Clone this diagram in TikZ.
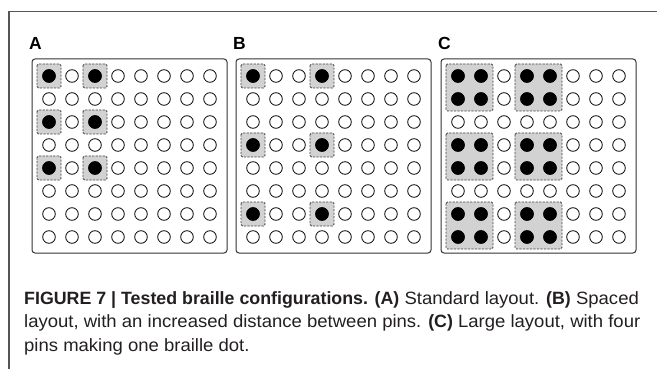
\documentclass[tikz,border=0pt]{standalone}
\usepackage{fontspec}
\setmainfont{Liberation Sans}[FakeStretch=1.04,BoldFeatures={FakeStretch=1.0}]
\definecolor{framecol}{HTML}{555555}
\definecolor{panelcol}{HTML}{333333}
\definecolor{boxfill}{HTML}{D2D2D2}
\definecolor{boxline}{HTML}{444444}
\definecolor{captcol}{HTML}{231F20}
\tikzset{
  frameline/.style={draw=framecol, line width=1.3pt},
  panelbox/.style={draw=panelcol, line width=1pt, rounded corners=3pt, fill=white},
  dotbox/.style={draw=boxline, fill=boxfill, dashed, dash pattern=on 2.2pt off 1.3pt, line width=0.8pt, rounded corners=1.5pt},
  pin/.style={draw=black, line width=0.8pt},
  pinset/.style={draw=black, fill=black, line width=0.8pt},
  panellabel/.style={font=\fontsize{17.5}{20}\selectfont\bfseries, anchor=base west, inner sep=0pt},
  captline/.style={font=\fontsize{17.8}{20}\selectfont, text=captcol, anchor=base west, inner sep=0pt}
}
\newcommand{\pinr}{6.3}
\begin{document}
\begin{tikzpicture}[x=1pt,y=-1pt]
\useasboundingbox (0,0) rectangle (657,369);
% outer frame
\coordinate (fbl) at (9,369);
\coordinate (ftl) at (9,11.5);
\coordinate (ftr) at (657,11.5);
\draw[frameline] (fbl) -- (ftl) -- (ftr);
% panels
\foreach \px/\lab in {32/A,236/B,441/C}{
  \draw[panelbox] (\px,59) rectangle ++(195,194);
  \node[panellabel] (lab\lab) at (\px-3,49.5) {\lab};
}
% Panel A boxes
\foreach \c in {0,2}{
  \foreach \r in {0,2,4}{
    \draw[dotbox] (49+23*\c-12,76+23*\r-12) rectangle ++(24,24);
  }
}
% Panel B boxes
\foreach \c in {0,3}{
  \foreach \r in {0,3,6}{
    \draw[dotbox] (253+23*\c-12,76+23*\r-12) rectangle ++(24,24);
  }
}
% Panel C boxes
\foreach \c in {0,3}{
  \foreach \r in {0,3,6}{
    \draw[dotbox] (458+23*\c-12,76+23*\r-12) rectangle ++(47,47);
  }
}
% open pins
\foreach \gx in {49,253,458}{
  \foreach \c in {0,...,7}{
    \foreach \r in {0,...,7}{
      \draw[pin] (\gx+23*\c,76+23*\r) circle (\pinr);
    }
  }
}
% set pins A
\foreach \c in {0,2}{\foreach \r in {0,2,4}{
  \draw[pinset] (49+23*\c,76+23*\r) circle (\pinr);
}}
% set pins B
\foreach \c in {0,3}{\foreach \r in {0,3,6}{
  \draw[pinset] (253+23*\c,76+23*\r) circle (\pinr);
}}
% set pins C
\foreach \c in {0,1,3,4}{\foreach \r in {0,1,3,4,6,7}{
  \draw[pinset] (458+23*\c,76+23*\r) circle (\pinr);
}}
% caption
\node[captline] (cap1) at (24,304) {\textbf{FIGURE 7 | Tested braille configurations. (A)} Standard layout. \textbf{(B)} Spaced};
\node[captline] (cap2) at (24,327.5) {layout, with an increased distance between pins. \textbf{(C)} Large layout, with four};
\node[captline] (cap3) at (24,351) {pins making one braille dot.};
\end{tikzpicture}
\end{document}
